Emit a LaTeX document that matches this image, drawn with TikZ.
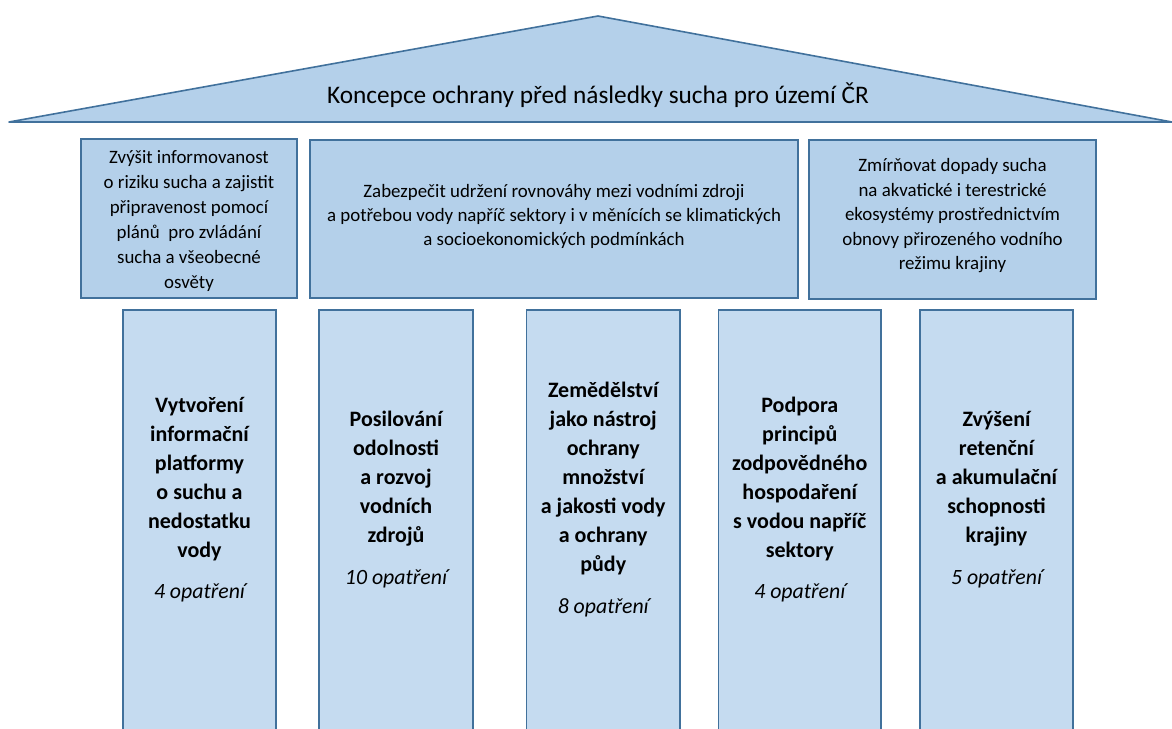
\documentclass[tikz,border=0pt]{standalone}
\usepackage{fontspec}
\setmainfont{Carlito}
\definecolor{strecha}{HTML}{B4D0EA}
\definecolor{sloupec}{HTML}{C5DBF0}
\definecolor{okraj}{HTML}{41719C}
\newcommand{\pocetopatreni}{\fontsize{21.8}{29}\selectfont\mdseries\itshape}
\tikzset{
	cil/.style={draw=okraj, line width=1.6pt, fill=strecha, inner sep=0pt},
	cilpopis/.style={align=center, font=\fontsize{18.9}{24.5}\selectfont},
	pilir/.style={draw=okraj, line width=1.6pt, fill=sloupec, anchor=north, minimum height=440pt, inner sep=0pt},
	popis/.style={align=center, font=\fontsize{22}{29}\selectfont\bfseries}
}
\begin{document}
\begin{tikzpicture}[x=1pt, y=-1pt]
	\def\vrch{309}
	\def\stred{499.5}
	\useasboundingbox (0,0) rectangle (1172,728);
	
	% Střecha
	\draw[draw=okraj, line width=1.6pt, fill=strecha, line join=round] (9,122) -- (598,16) -- (1172,122) -- cycle;
	\node[font=\fontsize{25.3}{30}\selectfont] (nazev) at (598,95) {Koncepce ochrany před následky sucha pro území ČR};
	
	% Cíle
	\node[cil, minimum width=216pt, minimum height=159pt] (cil1) at (189,218.5) {};
	\node[cil, minimum width=488pt, minimum height=158pt] (cil2) at (554,219) {};
	\node[cil, minimum width=287pt, minimum height=159pt] (cil3) at (952.5,219.5) {};
	
	\node[cilpopis, font=\fontsize{18.9}{25}\selectfont] (cil1text) at (189,221) {Zvýšit informovanost\\o riziku sucha a zajistit\\připravenost pomocí\\plánů\ \ pro zvládání\\sucha a všeobecné\\osvěty};
	\node[cilpopis, font=\fontsize{18.9}{24}\selectfont] (cil2text) at (554,216) {Zabezpečit udržení rovnováhy mezi vodními zdroji\\a potřebou vody napříč sektory i v měnících se klimatických\\a socioekonomických podmínkách};
	\node[cilpopis] (cil3text) at (952.5,216) {Zmírňovat dopady sucha\\na akvatické i terestrické\\ekosystémy prostřednictvím\\obnovy přirozeného vodního\\režimu krajiny};
	
	% Pilíře
	\node[pilir, minimum width=153pt] (sloup1) at (199.5,\vrch) {};
	\node[pilir, minimum width=154pt] (sloup2) at (396,\vrch) {};
	\node[pilir, minimum width=153.5pt] (sloup3) at (603.25,\vrch) {};
	\node[pilir, minimum width=162.5pt] (sloup4) at (799.75,\vrch) {};
	\node[pilir, minimum width=153pt] (sloup5) at (996.5,\vrch) {};
	
	\node[popis] (text1) at (199.5,\stred) {Vytvoření\\informační\\platformy\\o suchu a\\nedostatku\\vody\\[12.5pt]{\pocetopatreni 4 opatření}}; % 1. pilíř
	\node[popis] (text2) at (396,\stred) {Posilování\\odolnosti\\a rozvoj\\vodních\\zdrojů\\[12.5pt]{\pocetopatreni 10 opatření}}; % 2. pilíř
	\node[popis] (text3) at (603.25,\stred) {Zemědělství\\jako nástroj\\ochrany\\množství\\a jakosti vody\\a ochrany\\půdy\\[12.5pt]{\pocetopatreni 8 opatření}}; % 3. pilíř
	\node[popis] (text4) at (799.75,\stred) {Podpora\\principů\\zodpovědného\\hospodaření\\s vodou napříč\\sektory\\[12.5pt]{\pocetopatreni 4 opatření}}; % 4. pilíř
	\node[popis] (text5) at (996.5,\stred) {Zvýšení\\retenční\\a akumulační\\schopnosti\\krajiny\\[12.5pt]{\pocetopatreni 5 opatření}}; % 5. pilíř
\end{tikzpicture}
\end{document}
